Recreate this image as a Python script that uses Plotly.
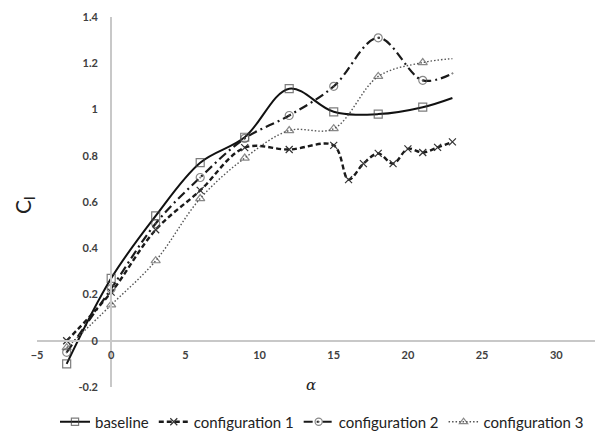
import plotly.graph_objects as go

# ---- data ----
alpha_main = [-3, 0, 3, 6, 9, 12, 15, 18, 21, 23]
baseline = [-0.10, 0.27, 0.54, 0.77, 0.88, 1.09, 0.99, 0.98, 1.01, 1.05]

alpha_cfg1 = [-3, 0, 3, 6, 9, 12, 15, 16, 17, 18, 19, 20, 21, 22, 23]
configuration1 = [0.0, 0.21, 0.48, 0.65, 0.835, 0.827, 0.845, 0.697, 0.766,
                  0.81, 0.766, 0.83, 0.814, 0.836, 0.86]

configuration2 = [-0.05, 0.225, 0.507, 0.706, 0.875, 0.974, 1.10, 1.31, 1.126, 1.156]
configuration3 = [-0.03, 0.155, 0.346, 0.615, 0.79, 0.909, 0.917, 1.143, 1.203, 1.22]

x_ticks = [-5, 0, 5, 10, 15, 20, 25, 30]
y_ticks = [-0.2, 0, 0.2, 0.4, 0.6, 0.8, 1, 1.2, 1.4]
y_tick_labels = ["-0.2", "0", "0.2", "0.4", "0.6", "0.8", "1", "1.2", "1.4"]

series_names = ["baseline", "configuration 1", "configuration 2", "configuration 3"]

# ---- figure ----
X_MIN, X_MAX = -5, 33.15
Y_MIN, Y_MAX = -0.2, 1.4
W, H = 603, 434
OFF = 8  # page body margin
# plot area in screen pixels: x 37..603, y 17..387
L, T = 37 - OFF, 17 - OFF
R = W - (603 - OFF)
B = H - (387 - OFF)
PW, PH = W - L - R, H - T - B


def px(sx):
    return (sx - OFF - L) / PW


def py(sy):
    return (T + PH - (sy - OFF)) / PH


def sizes(n, s):
    return [s] * (n - 1) + [0]


fig = go.Figure()
fig.add_trace(go.Scatter(
    x=alpha_main, y=baseline, name=series_names[0], mode="lines+markers",
    line=dict(color="#111111", width=2, shape="spline", smoothing=1.0),
    marker=dict(symbol="square-open", size=sizes(len(alpha_main), 8),
                color="#444444", line=dict(width=1.2, color="#444444")),
))
fig.add_trace(go.Scatter(
    x=alpha_cfg1, y=configuration1, name=series_names[1], mode="lines+markers",
    line=dict(color="#1a1a1a", width=2.4, dash="5px,3px", shape="spline", smoothing=1.0),
    marker=dict(symbol="x-thin-open", size=7, color="#333333",
                line=dict(width=1.2, color="#333333")),
))
fig.add_trace(go.Scatter(
    x=alpha_main, y=configuration2, name=series_names[2], mode="lines+markers",
    line=dict(color="#1a1a1a", width=2.2, dash="9px,4px,2px,4px", shape="spline", smoothing=1.0),
    marker=dict(symbol="circle-open-dot", size=sizes(len(alpha_main), 8),
                color="#555555", line=dict(width=1.2, color="#555555")),
))
fig.add_trace(go.Scatter(
    x=alpha_main, y=configuration3, name=series_names[3], mode="lines+markers",
    line=dict(color="#555555", width=1.4, dash="1.5px,2px", shape="spline", smoothing=1.0),
    marker=dict(symbol="triangle-up-open", size=sizes(len(alpha_main), 8),
                color="#555555", line=dict(width=1.2, color="#555555")),
))

tick_font = dict(family="Lato", size=11, color="#404040", weight="bold")

fig.update_layout(
    width=W, height=H,
    margin=dict(l=L, r=R, t=T, b=B, autoexpand=False),
    paper_bgcolor="white", plot_bgcolor="white",
    showlegend=True,
    legend=dict(orientation="h", x=px(322), xanchor="center",
                y=py(422), yanchor="middle",
                font=dict(family="Lato", size=15, color="#222222"),
                itemwidth=30, tracegroupgap=0, bgcolor="rgba(0,0,0,0)"),
    xaxis=dict(range=[X_MIN, X_MAX], tickvals=x_ticks, showgrid=False, zeroline=False,
               showline=True, linecolor="#c8c8c8", linewidth=2, automargin=False,
               anchor="free", position=(0 - Y_MIN) / (Y_MAX - Y_MIN),
               ticks="", ticklabelstandoff=4, tickfont=tick_font),
    yaxis=dict(range=[Y_MIN, Y_MAX], tickvals=y_ticks, ticktext=y_tick_labels,
               showgrid=False, zeroline=False, automargin=False,
               showline=True, linecolor="#c8c8c8", linewidth=2,
               anchor="free", position=(0 - X_MIN) / (X_MAX - X_MIN),
               ticks="", ticklabelstandoff=10, tickfont=tick_font),
    annotations=[
        dict(text="α", xref="paper", yref="paper", x=px(311), y=py(385),
             xanchor="center", yanchor="middle", showarrow=False,
             font=dict(family="DejaVu Serif", size=15, color="#222222", style="italic")),
        dict(text="C<sub>l</sub>", xref="paper", yref="paper", x=px(24),
             y=py(205), xanchor="center", yanchor="middle", showarrow=False,
             textangle=-90, font=dict(family="Lato", size=21, color="#222222")),
    ],
)

fig.write_html("out.html")
